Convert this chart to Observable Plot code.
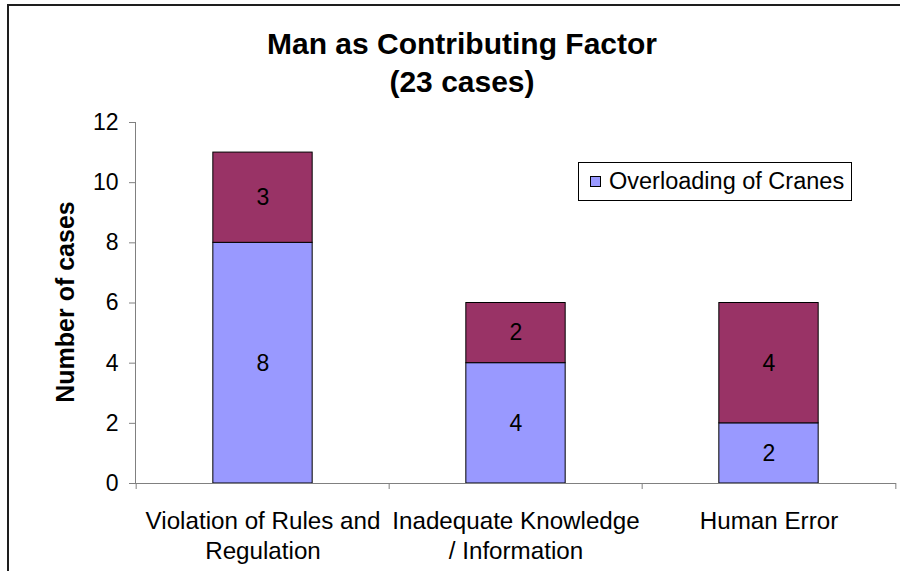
<!DOCTYPE html>
<html>
<head>
<meta charset="utf-8">
<script src="https://cdn.jsdelivr.net/npm/d3@7"></script>
<script src="https://cdn.jsdelivr.net/npm/@observablehq/plot@0.6"></script>
<style>
  html, body { margin: 0; padding: 0; background: #fff; }
  body { width: 900px; height: 571px; overflow: hidden; position: relative; font-family: "Liberation Sans", Arial, sans-serif; }
  #frame { position: absolute; left: 7px; top: 4px; width: 1000px; height: 1000px; border-left: 2px solid #1e1e1e; border-top: 2px solid #1e1e1e; box-sizing: border-box; }
  #title { position: absolute; left: 0; top: 25px; width: 924px; text-align: center; font-weight: bold; font-size: 30px; line-height: 38px; color: #000; }
  #chart { position: absolute; left: 0; top: 0; }
  #ylabel { position: absolute; left: 65px; top: 302px; transform: translate(-50%, -50%) rotate(-90deg); font-weight: bold; font-size: 25px; white-space: nowrap; line-height: 1; color: #000; }
  #legend { position: absolute; left: 578px; top: 162px; width: 274px; height: 39px; border: 1px solid #000; box-sizing: border-box; background: #fff; font-size: 23.5px; }
  #legend .sw { position: absolute; left: 11px; top: 13px; width: 11px; height: 11px; border: 1px solid #000; box-sizing: border-box; }
  #legend .lab { position: absolute; left: 30px; top: 4px; line-height: 28px; white-space: nowrap; }
</style>
</head>
<body>
<div id="frame"></div>
<div id="chart"></div>
<div id="title"></div>
<div id="ylabel"></div>
<div id="legend"></div>
<script>
// ---- data ----
const categories = ["Violation of Rules and Regulation", "Inadequate Knowledge / Information", "Human Error"];
const categoryLabels = ["Violation of Rules and\nRegulation", "Inadequate Knowledge\n/ Information", "Human Error"];
const seriesNames = ["Overloading of Cranes", "Other"];
const overloadingOfCranes = [8, 4, 2];
const other = [3, 2, 4];
const seriesColors = ["#9999FF", "#993366"];
const yTicks = [0, 2, 4, 6, 8, 10, 12];
const chartTitle = "Man as Contributing Factor";
const chartSubtitle = "(23 cases)";
const yLabel = "Number of cases";

// ---- table ----
const seriesValues = [overloadingOfCranes, other];
const table = [];
seriesNames.forEach((s, si) => {
  categories.forEach((c, ci) => {
    table.push({category: c, series: s, value: seriesValues[si][ci]});
  });
});

const width = 900, height = 571;
const marginLeft = 135, marginRight = 4, marginTop = 122, marginBottom = 88;
const step = (width - marginLeft - marginRight) / categories.length;
const barWidth = 100;
const inset = (step - barWidth) / 2;
const labelOf = new Map(categories.map((c, i) => [c, categoryLabels[i]]));

const chart = Plot.plot({
  width, height, marginLeft, marginRight, marginTop, marginBottom,
  style: {fontFamily: "'Liberation Sans', Arial, sans-serif", color: "#000", background: "transparent"},
  x: {type: "band", domain: categories, padding: 0},
  y: {domain: [0, 12]},
  color: {domain: seriesNames, range: seriesColors},
  marks: [
    Plot.barY(table, Plot.stackY({
      x: "category", y: "value", fill: "series", order: seriesNames,
      stroke: "#000", strokeWidth: 1, insetLeft: inset, insetRight: inset
    })),
    Plot.text(table, Plot.stackY({
      x: "category", y: "value", z: "series", order: seriesNames,
      text: d => String(d.value), fontSize: 23, fill: "#000"
    })),
    Plot.frame({anchor: "left", stroke: "#808080"}),
    Plot.ruleY([0], {stroke: "#808080"}),
    Plot.axisY(yTicks, {tickSize: 6, tickPadding: 11, stroke: "#808080", fill: "#000", fontSize: 23, label: null}),
    Plot.axisX({tickSize: 6, fill: "none", stroke: "#808080", dx: -step / 2, label: null}),
    Plot.axisX([categories[categories.length - 1]], {tickSize: 6, fill: "none", stroke: "#808080", dx: step / 2, label: null}),
    Plot.axisX({tickSize: 0, tickPadding: 23, tickFormat: c => labelOf.get(c), fontSize: 24.2, lineHeight: 1.28, stroke: "none", fill: "#000", label: null})
  ]
});
document.getElementById("chart").appendChild(chart);

document.getElementById("title").innerHTML = chartTitle + "<br>" + chartSubtitle;
document.getElementById("ylabel").textContent = yLabel;
const legend = document.getElementById("legend");
legend.innerHTML = `<div class="sw" style="background:${seriesColors[0]}"></div><div class="lab">${seriesNames[0]}</div>`;
</script>
</body>
</html>
